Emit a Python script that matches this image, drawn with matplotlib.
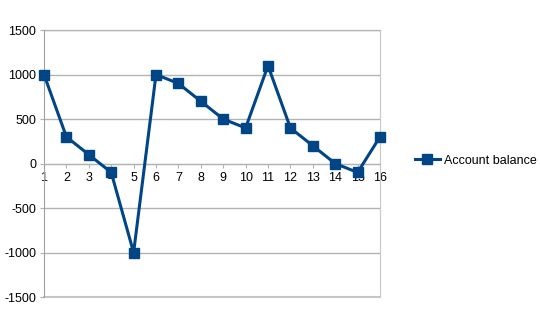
import matplotlib.pyplot as plt

BLUE = "#004586"
GRID = "#b3b3b3"

days = list(range(1, 17))
balance = [1000, 300, 100, -100, -1000, 1000, 900, 700, 500, 400, 1100, 400, 200, 0, -100, 300]
y_ticks = [-1500, -1000, -500, 0, 500, 1000, 1500]

plt.rcParams["font.family"] = ["Liberation Sans", "DejaVu Sans"]
plt.rcParams["axes.unicode_minus"] = False

fig = plt.figure(figsize=(5.4, 3.22), dpi=100, facecolor="white")
ax = fig.add_axes([0.0815, 0.0776, 0.6222, 0.829])

ax.plot(days, balance, color=BLUE, lw=2.2, marker="s", markersize=7.5,
        markerfacecolor=BLUE, markeredgecolor=BLUE, label="Account balance",
        zorder=3, clip_on=False)

ax.set_xlim(1, 16)
ax.set_ylim(-1500, 1500)
ax.set_yticks(y_ticks)
ax.set_xticks(days)
ax.grid(axis="y", color=GRID, lw=1.0, zorder=0)

# x axis crosses at zero, like the spreadsheet chart
ax.spines["bottom"].set_position(("data", 0))
ax.spines["bottom"].set_color(GRID)
ax.spines["top"].set_visible(False)
ax.spines["right"].set_color("#c8c8c8")
ax.spines["left"].set_color("#a0a0a0")
ax.axhline(-1500, color="#c8c8c8", lw=1.5, zorder=1, clip_on=False)
ax.axhline(1500, color="#c8c8c8", lw=1.0, zorder=1, clip_on=False)

ax.tick_params(axis="x", direction="out", length=3, color=GRID, pad=3, labelsize=9)
ax.tick_params(axis="y", direction="out", length=3, color=GRID, pad=2.5, labelsize=9)

ax.legend(loc="center left", bbox_to_anchor=(1.07, 0.51), frameon=False,
          fontsize=9, handlelength=2.0, handletextpad=0.3)

fig.savefig("out.png", dpi=100, facecolor="white")
